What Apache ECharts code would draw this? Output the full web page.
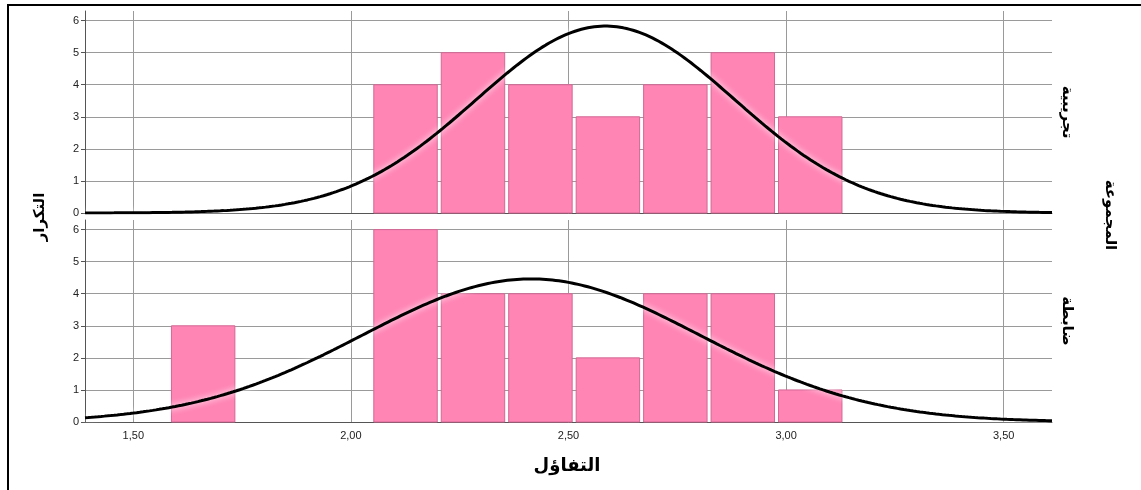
<!DOCTYPE html>
<html>
<head>
<meta charset="utf-8">
<script src="https://cdn.jsdelivr.net/npm/echarts@6/dist/echarts.min.js"></script>
<style>
  html, body { margin: 0; padding: 0; background: #fff; }
  #chart { width: 1141px; height: 490px; }
</style>
</head>
<body>
<div id="chart"></div>
<script>
// Histogram bins (left edges) shared by both groups, and the bin width
const binLeft = [1.583, 1.738, 1.893, 2.048, 2.203, 2.358, 2.513, 2.668, 2.823, 2.978];
const binWidth = 0.155;

// Frequencies per bin for each group
const groupNames = ['تجريبية', 'ضابطة'];
const countsExperimental = [0, 0, 0, 4, 5, 4, 3, 4, 5, 3];
const countsControl = [3, 0, 0, 6, 4, 4, 2, 4, 4, 1];

// Fitted normal curve parameters per group (mean, standard deviation, N)
const normalExperimental = { mean: 2.585, sd: 0.297, n: 28 };
const normalControl = { mean: 2.414, sd: 0.388, n: 28 };

// Axis ranges and tick labels
const xMin = 1.389, xMax = 3.611;
const yMax = 6.3;
const xTickLabels = ['1,50', '2,00', '2,50', '3,00', '3,50'];

const xTitle = 'التفاؤل';
const yTitle = 'التكرار';
const panelTitle = 'المجموعة';

const barFill = '#FF85B5';
const barStroke = '#D36794';

function binData(counts) {
  return counts.map((c, i) => [binLeft[i], binLeft[i] + binWidth, c]).filter(d => d[2] > 0);
}

function normalCurve(p) {
  const pts = [];
  const steps = 300;
  for (let i = 0; i <= steps; i++) {
    const x = xMin + (xMax - xMin) * i / steps;
    const z = (x - p.mean) / p.sd;
    const y = p.n * binWidth * Math.exp(-0.5 * z * z) / (p.sd * Math.sqrt(2 * Math.PI));
    pts.push([x, y]);
  }
  return pts;
}

function renderBar(params, api) {
  const lo = api.value(0), hi = api.value(1), c = api.value(2);
  const p0 = api.coord([lo, c]);
  const p1 = api.coord([hi, 0]);
  const inset = 2;
  return {
    type: 'rect',
    shape: { x: p0[0] + inset, y: p0[1], width: p1[0] - p0[0] - inset * 2, height: p1[1] - p0[1] },
    style: { fill: barFill, stroke: barStroke, lineWidth: 1 }
  };
}

const gridGray = '#9a9a9a';
const axisGray = '#555';
const labelFont = { fontFamily: 'Liberation Sans, Arial, sans-serif', fontSize: 11, color: '#222' };

function makeXAxis(gridIndex, showLabels) {
  return {
    type: 'value', gridIndex, min: xMin, max: xMax, splitNumber: 5,
    axisLine: { show: true, onZero: false, lineStyle: { color: axisGray, width: 1 } },
    axisTick: { show: false },
    axisLabel: {
      show: showLabels, showMinLabel: false, showMaxLabel: false, margin: 8,
      ...labelFont,
      formatter: v => {
        const idx = Math.round((v - 1.5) / 0.5);
        return xTickLabels[idx] !== undefined ? xTickLabels[idx] : '';
      }
    },
    splitLine: { show: true, showMinLine: false, showMaxLine: false, lineStyle: { color: gridGray, width: 1 } }
  };
}

function makeYAxis(gridIndex) {
  return {
    type: 'value', gridIndex, min: 0, max: yMax, interval: 1,
    axisLine: { show: true, lineStyle: { color: axisGray, width: 1 } },
    axisTick: { show: true, length: 4, lineStyle: { color: axisGray } },
    axisLabel: { showMaxLabel: false, margin: 6, ...labelFont },
    splitLine: { show: true, showMaxLine: false, lineStyle: { color: gridGray, width: 1 } }
  };
}

const curveStyle = {
  color: '#000', width: 3,
  shadowColor: 'rgba(255,255,255,1)', shadowBlur: 6
};

const arabicFont = 'DejaVu Sans, Noto Sans, sans-serif';

const option = {
  animation: false,
  backgroundColor: '#fff',
  grid: [
    { left: 85, top: 11, width: 967, height: 202 },
    { left: 85, top: 220, width: 967, height: 202 }
  ],
  xAxis: [makeXAxis(0, false), makeXAxis(1, true)],
  yAxis: [makeYAxis(0), makeYAxis(1)],
  series: [
    {
      type: 'custom', xAxisIndex: 0, yAxisIndex: 0, renderItem: renderBar,
      data: binData(countsExperimental), encode: { x: [0, 1], y: 2 }, z: 2
    },
    {
      type: 'custom', xAxisIndex: 1, yAxisIndex: 1, renderItem: renderBar,
      data: binData(countsControl), encode: { x: [0, 1], y: 2 }, z: 2
    },
    {
      type: 'line', xAxisIndex: 0, yAxisIndex: 0, showSymbol: false, smooth: false,
      data: normalCurve(normalExperimental), lineStyle: curveStyle, z: 5, clip: true
    },
    {
      type: 'line', xAxisIndex: 1, yAxisIndex: 1, showSymbol: false, smooth: false,
      data: normalCurve(normalControl), lineStyle: curveStyle, z: 5, clip: true
    }
  ],
  graphic: [
    {
      type: 'rect', shape: { x: 8, y: 5, width: 1145, height: 495 },
      style: { fill: 'none', stroke: '#000', lineWidth: 2 }, silent: true, z: 100
    },
    {
      type: 'text', x: 567, y: 466,
      style: { text: xTitle, font: 'bold 18px ' + arabicFont, fill: '#000', align: 'center', verticalAlign: 'middle' }
    },
    {
      type: 'text', x: 40, y: 217, rotation: Math.PI / 2,
      style: { text: yTitle, font: 'bold 15px ' + arabicFont, fill: '#000', align: 'center', verticalAlign: 'middle' }
    },
    {
      type: 'text', x: 1110, y: 215, rotation: -Math.PI / 2,
      style: { text: panelTitle, font: 'bold 15px ' + arabicFont, fill: '#000', align: 'center', verticalAlign: 'middle' }
    },
    {
      type: 'text', x: 1067, y: 112, rotation: -Math.PI / 2,
      style: { text: groupNames[0], font: 'bold 15px ' + arabicFont, fill: '#000', align: 'center', verticalAlign: 'middle' }
    },
    {
      type: 'text', x: 1067, y: 321, rotation: -Math.PI / 2,
      style: { text: groupNames[1], font: 'bold 15px ' + arabicFont, fill: '#000', align: 'center', verticalAlign: 'middle' }
    }
  ]
};

const chart = echarts.init(document.getElementById('chart'), null, { renderer: 'canvas' });
chart.setOption(option);
</script>
</body>
</html>
